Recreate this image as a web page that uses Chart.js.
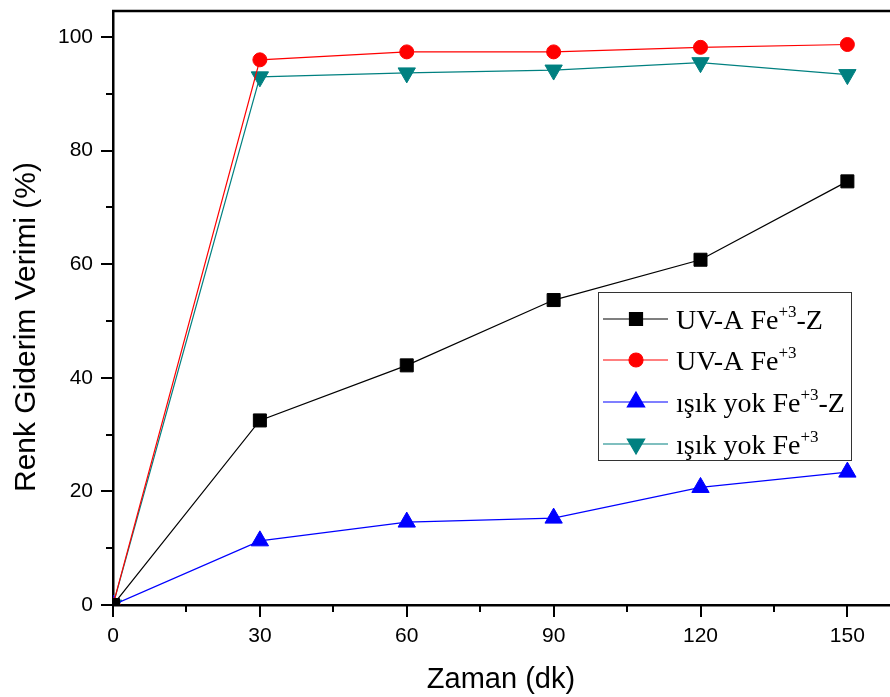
<!DOCTYPE html>
<html>
<head>
<meta charset="utf-8">
<script src="https://cdn.jsdelivr.net/npm/chart.js@4/dist/chart.umd.min.js"></script>
<style>
  html, body { margin: 0; padding: 0; background: #fff; overflow: hidden; }
  #wrap { width: 890px; height: 697px; overflow: hidden; }
</style>
</head>
<body>
<div id="wrap"><canvas id="chart" width="900" height="697"></canvas></div>
<script>
// time (dk)
const times = [0, 30, 60, 90, 120, 150];

// colour removal efficiency (%)
const uvaFeZ = [0, 32.5, 42.2, 53.7, 60.8, 74.6];
const uvaFe = [0, 96.0, 97.4, 97.4, 98.2, 98.7];
const darkFeZ = [0, 11.3, 14.6, 15.3, 20.7, 23.4];
const darkFe = [0, 93.0, 93.7, 94.2, 95.5, 93.4];

// legend text: main part, superscript, suffix
const legendMain = ['UV-A Fe', 'UV-A Fe', 'ışık yok Fe', 'ışık yok Fe'];
const legendSup = ['+3', '+3', '+3', '+3'];
const legendSuffix = ['-Z', '', '-Z', ''];

const xTitle = 'Zaman (dk)';
const yTitle = 'Renk Giderim Verimi (%)';

function pts(values) {
  return values.map((v, i) => ({ x: times[i], y: v }));
}

function makeSet(values, color, style, radius, rotation) {
  return {
    data: pts(values),
    borderColor: color,
    backgroundColor: color,
    borderWidth: 1.2,
    pointStyle: style,
    pointRadius: radius,
    pointHoverRadius: radius,
    pointRotation: rotation,
    pointBorderWidth: 1,
    tension: 0
  };
}

const sets = [
  makeSet(uvaFeZ, '#000000', 'rect', 9.2, 0),
  makeSet(uvaFe, '#ff0000', 'circle', 7, 0),
  makeSet(darkFeZ, '#0000ff', 'triangle', 10, 0),
  makeSet(darkFe, '#008080', 'triangle', 10, 180)
];

// tick marks (major labelled, minor short), top frame line, y title
const tickMarks = {
  id: 'tickMarks',
  afterDraw(chart) {
    const ctx = chart.ctx;
    const area = chart.chartArea;
    const xs = chart.scales.x;
    const ys = chart.scales.y;
    ctx.save();
    ctx.strokeStyle = '#000';
    ctx.lineWidth = 2;
    ctx.beginPath();
    xs.ticks.forEach(t => {
      const px = Math.round(xs.getPixelForValue(t.value));
      const len = t.value % 30 === 0 ? 12 : 7;
      ctx.moveTo(px, area.bottom);
      ctx.lineTo(px, area.bottom + len);
    });
    ys.ticks.forEach(t => {
      const py = Math.round(ys.getPixelForValue(t.value));
      const len = t.value % 20 === 0 ? 12 : 7;
      ctx.moveTo(area.left, py);
      ctx.lineTo(area.left - len, py);
    });
    ctx.stroke();
    ctx.lineWidth = 2.5;
    ctx.beginPath();
    ctx.moveTo(area.left - 1, area.top);
    ctx.lineTo(area.right + 2, area.top);
    ctx.stroke();

    ctx.translate(35, 327);
    ctx.rotate(-Math.PI / 2);
    ctx.fillStyle = '#000';
    ctx.textAlign = 'center';
    ctx.textBaseline = 'alphabetic';
    ctx.font = '30px "Liberation Sans", Arial, sans-serif';
    ctx.fillText(yTitle, 0, 0);
    ctx.restore();
  }
};

// legend with superscripts
const supLegend = {
  id: 'supLegend',
  afterDraw(chart) {
    const ctx = chart.ctx;
    const bx = 598, by = 292, bw = 253, bh = 168;
    ctx.save();
    ctx.fillStyle = '#fff';
    ctx.fillRect(bx, by, bw, bh);
    ctx.strokeStyle = '#333';
    ctx.lineWidth = 1;
    ctx.strokeRect(bx + 0.5, by + 0.5, bw, bh);
    const rowY = [319, 360, 402, 444];
    chart.data.datasets.forEach((ds, i) => {
      const y = rowY[i];
      ctx.strokeStyle = ds.borderColor;
      ctx.lineWidth = 1.2;
      ctx.beginPath();
      ctx.moveTo(603, y);
      ctx.lineTo(668, y);
      ctx.stroke();
      ctx.fillStyle = ds.backgroundColor;
      Chart.helpers.drawPoint(ctx, {
        pointStyle: ds.pointStyle,
        radius: ds.pointRadius,
        rotation: ds.pointRotation,
        borderWidth: 1
      }, 636, y);
      ctx.fillStyle = '#000';
      ctx.textBaseline = 'alphabetic';
      ctx.textAlign = 'left';
      ctx.font = '28px "Liberation Serif", "Times New Roman", serif';
      let x = 676;
      ctx.fillText(legendMain[i], x, y + 10);
      x += ctx.measureText(legendMain[i]).width;
      ctx.font = '17px "Liberation Serif", "Times New Roman", serif';
      ctx.fillText(legendSup[i], x, y - 2);
      x += ctx.measureText(legendSup[i]).width;
      if (legendSuffix[i]) {
        ctx.font = '28px "Liberation Serif", "Times New Roman", serif';
        ctx.fillText(legendSuffix[i], x, y + 10);
      }
    });
    ctx.restore();
  }
};

const tickFont = { family: '"Liberation Sans", Arial, sans-serif', size: 21 };
const titleFont = { family: '"Liberation Sans", Arial, sans-serif', size: 29 };

function noPad(scale) {
  scale.paddingTop = 0;
  scale.paddingBottom = 0;
  scale.paddingLeft = 0;
  scale.paddingRight = 0;
}

new Chart(document.getElementById('chart'), {
  type: 'line',
  data: { datasets: sets },
  options: {
    responsive: false,
    animation: false,
    layout: { padding: { top: 10, right: 1, left: 0, bottom: 0 } },
    plugins: {
      legend: { display: false },
      tooltip: { enabled: false }
    },
    scales: {
      x: {
        type: 'linear',
        min: 0,
        max: 158.5,
        border: { display: true, color: '#000', width: 2.5 },
        grid: { display: false, drawTicks: false },
        ticks: {
          stepSize: 15,
          includeBounds: false,
          autoSkip: false,
          maxRotation: 0,
          color: '#000',
          font: tickFont,
          padding: 19,
          callback: v => (v % 30 === 0 ? String(v) : '')
        },
        title: {
          display: true,
          text: xTitle,
          color: '#000',
          font: titleFont,
          padding: { top: 4, bottom: 0 }
        },
        afterFit(scale) { scale.height = 92; noPad(scale); }
      },
      y: {
        type: 'linear',
        min: 0,
        max: 104.6,
        border: { display: true, color: '#000', width: 2.5 },
        grid: { display: false, drawTicks: false },
        ticks: {
          stepSize: 10,
          includeBounds: false,
          autoSkip: false,
          color: '#000',
          font: tickFont,
          padding: 20,
          callback: v => (v % 20 === 0 ? String(v) : '')
        },
        title: { display: false },
        afterFit(scale) { scale.width = 113; noPad(scale); }
      }
    }
  },
  plugins: [tickMarks, supLegend]
});
</script>
</body>
</html>
